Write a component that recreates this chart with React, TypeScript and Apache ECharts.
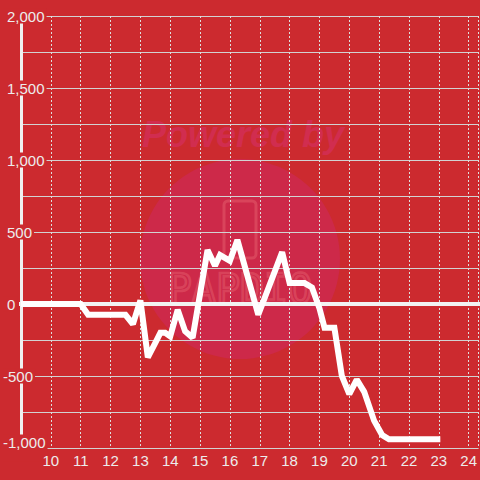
import React, { useEffect, useRef } from 'react';
import * as echarts from 'echarts';

// Time of day (hours) and running value
const hours = [9, 11, 11.25, 12.5, 12.75, 13, 13.25, 13.5, 13.67, 13.83, 14, 14.25, 14.5, 14.75, 15.25, 15.5, 15.67, 16, 16.25, 16.95, 17.75, 18, 18.5, 18.75, 19, 19.17, 19.5, 19.75, 20, 20.25, 20.5, 20.83, 21.1, 21.33, 23.05];
const values = [0, 0, -75, -75, -140, 25, -370, -270, -200, -200, -225, -40, -190, -235, 375, 265, 340, 300, 445, -75, 360, 145, 145, 115, -30, -165, -165, -500, -625, -525, -610, -810, -910, -940, -940];

const xMin = 9;
const xMax = 24.333;
const xStep = 1;
const yMin = -1000;
const yMax = 2000;
const yStep = 500;

const BG = '#cc2a2f';
const LABEL = '#ececec';

function fmt(v: number): string {
  return v.toLocaleString('en-US');
}

export default function App() {
  const ref = useRef<HTMLDivElement>(null);
  useEffect(() => {
    if (!ref.current) return;
    const chart = echarts.init(ref.current, null, { renderer: 'svg' });
    const font = 'Liberation Sans';
    const tok = { fontFamily: font, fontSize: 15, color: LABEL, backgroundColor: BG };
    chart.setOption({
      animation: false,
      backgroundColor: BG,
      grid: { left: 20, right: 0, top: 16, bottom: 32, containLabel: false },
      graphic: [
        { type: 'circle', z: -10, shape: { cx: 240, cy: 259, r: 100 }, style: { fill: '#cd2949' }, silent: true },
        {
          type: 'text', z: -9, x: 243, y: 134, silent: true,
          style: { text: 'Powered by', fill: '#d12d4f', font: 'italic bold 36px "Liberation Sans"', align: 'center', verticalAlign: 'middle' },
        },
        {
          type: 'rect', z: -9, silent: true,
          shape: { x: 224, y: 201, width: 32, height: 57, r: 4 },
          style: { fill: 'none', stroke: 'rgba(235,110,120,0.4)', lineWidth: 3 },
        },
        {
          type: 'text', z: -9, x: 240, y: 289, silent: true,
          style: { text: 'PAPDIO', fill: 'none', stroke: 'rgba(235,110,120,0.4)', lineWidth: 2.5, font: '40px "DejaVu Sans Mono"', align: 'center', verticalAlign: 'middle' },
        },
      ],
      xAxis: [
        {
          type: 'value', min: xMin, max: xMax, interval: xStep,
          axisLine: { show: false, onZero: false },
          axisTick: { show: false },
          axisLabel: { showMinLabel: false, showMaxLabel: false, margin: 5, color: LABEL, fontFamily: font, fontSize: 15 },
          splitLine: { show: true, lineStyle: { color: '#dedede', width: 1, type: [2, 2] } },
        },
        {
          type: 'value', min: xMin, max: xMax, interval: xStep, position: 'top', z: 1,
          axisLine: { show: true, onZero: true, lineStyle: { color: '#f2f2f2', width: 4, cap: 'square' } },
          axisTick: { show: false },
          axisLabel: { show: false },
          splitLine: { show: false },
        },
      ],
      yAxis: {
        type: 'value', min: yMin, max: yMax, interval: yStep,
        axisLine: { show: true, lineStyle: { color: '#f0f0f0', width: 3 } },
        axisTick: { show: false },
        axisLabel: {
          align: 'left', margin: 18,
          formatter: (v: number) => {
            if (v === yMin) return `{m|${fmt(v)}}`;
            if (v < 0) return `{n|${fmt(v)}}`;
            return `{p|${fmt(v)}}`;
          },
          rich: {
            p: { ...tok, padding: [0, 2, 0, 4] },
            n: { ...tok, padding: [0, 2, 0, 0] },
            m: { ...tok, padding: [0, 2, 12, 0] },
          },
        },
        splitLine: { show: true, lineStyle: { color: '#d2d2d2', width: 1 } },
        minorTick: { show: false, splitNumber: 2 },
        minorSplitLine: { show: true, lineStyle: { color: '#d2d2d2', width: 1 } },
      },
      series: [
        {
          type: 'line',
          xAxisIndex: 0,
          z: 5,
          data: hours.map((h, i) => [h, values[i]]),
          showSymbol: false,
          lineStyle: { color: '#ffffff', width: 6, join: 'miter', miterLimit: 2 },
        },
      ],
    });
    return () => chart.dispose();
  }, []);
  return <div ref={ref} style={{ position: 'fixed', left: 0, top: 0, width: 480, height: 480 }} />;
}
